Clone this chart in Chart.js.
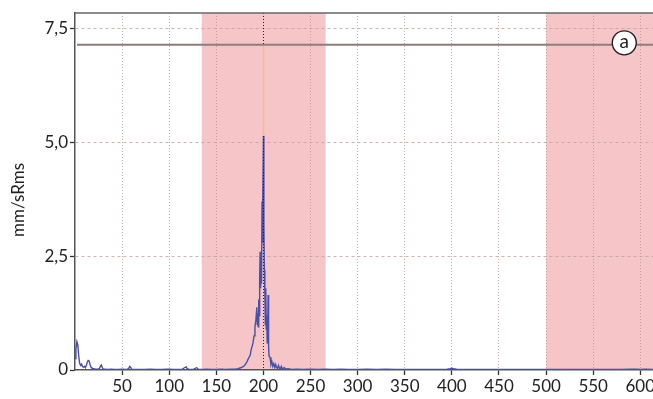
<!DOCTYPE html>
<html>
<head>
<meta charset="utf-8">
<script src="https://cdn.jsdelivr.net/npm/chart.js@4/dist/chart.umd.min.js"></script>
<style>
  html, body { margin: 0; padding: 0; background: #fff; }
  canvas { display: block; }
</style>
</head>
<body>
<canvas id="spectrum" width="653" height="399"></canvas>
<script>
// spectrum points: frequency (Hz) and velocity (mm/s RMS)
const freq = [0, 1, 2, 3, 4, 5, 6, 7, 8, 9, 10, 11, 12, 13, 14, 15, 16, 17, 18, 19, 20, 22, 24, 26, 27, 28, 29, 30, 32, 35, 38, 42, 46, 50, 54, 57, 58, 59, 60, 63, 68, 74, 80, 86, 92, 98, 101, 104, 110, 114, 117, 118, 119, 122, 126, 129, 130, 131, 135, 140, 145, 150, 155, 160, 165, 170, 173, 176, 178, 180, 182, 184, 186, 187, 188, 189, 190, 191, 192, 193, 193.5, 194, 194.5, 195, 195.5, 196, 196.5, 197, 197.5, 198, 198.5, 199, 199.5, 200, 200.5, 201, 201.5, 202, 202.5, 203, 203.5, 204, 204.5, 205, 205.5, 206, 207, 208, 209, 210, 211, 212, 213, 214, 215, 216, 217, 218, 219, 220, 222, 224, 226, 230, 236, 242, 250, 258, 266, 274, 282, 290, 300, 310, 320, 330, 340, 350, 360, 370, 380, 390, 395, 398, 400, 402, 405, 410, 420, 440, 460, 480, 500, 520, 540, 560, 580, 590, 595, 600, 605, 613];
const amp = [0.25, 0.45, 0.62, 0.55, 0.3, 0.14, 0.1, 0.13, 0.07, 0.06, 0.08, 0.05, 0.1, 0.17, 0.21, 0.2, 0.12, 0.06, 0.04, 0.03, 0.03, 0.02, 0.02, 0.03, 0.09, 0.11, 0.05, 0.02, 0.02, 0.01, 0.02, 0.01, 0.01, 0.02, 0.01, 0.03, 0.08, 0.06, 0.02, 0.01, 0.01, 0.01, 0.02, 0.01, 0.01, 0.02, 0.02, 0.01, 0.01, 0.02, 0.06, 0.07, 0.03, 0.01, 0.02, 0.05, 0.04, 0.01, 0.01, 0.02, 0.01, 0.01, 0.02, 0.01, 0.02, 0.02, 0.03, 0.05, 0.07, 0.1, 0.16, 0.25, 0.33, 0.45, 0.52, 0.6, 0.75, 0.95, 1.1, 1.38, 1.0, 1.25, 0.95, 1.55, 1.2, 2.0, 2.6, 1.8, 2.3, 1.9, 3.7, 2.8, 3.7, 5.15, 3.2, 2.2, 1.7, 1.0, 1.8, 0.9, 1.2, 0.6, 0.9, 1.65, 0.5, 0.3, 0.28, 0.12, 0.18, 0.08, 0.14, 0.06, 0.12, 0.05, 0.04, 0.1, 0.04, 0.03, 0.08, 0.02, 0.05, 0.02, 0.03, 0.01, 0.02, 0.01, 0.02, 0.01, 0.02, 0.01, 0.02, 0.01, 0.01, 0.02, 0.01, 0.02, 0.01, 0.01, 0.01, 0.01, 0.01, 0.01, 0.02, 0.03, 0.04, 0.03, 0.02, 0.01, 0.01, 0.01, 0.01, 0.01, 0.01, 0.01, 0.01, 0.01, 0.01, 0.02, 0.02, 0.01, 0.02, 0.01];

const xTicks = [50, 100, 150, 200, 250, 300, 350, 400, 450, 500, 550, 600];
const yTicks = [0, 2.5, 5, 7.5];
const yTitle = 'mm/sRms';

// shaded frequency bands
const bands = [[134.5, 266], [500, 700]];

// alarm level and its marker
const alarmLevel = 7.15;
const alarmMarkerFreq = 583;
const alarmLabel = 'a';

// cursor on the main peak
const cursorFreq = 200;
const cursorValue = 5.15;

const FONT = 'Lato, "Open Sans", sans-serif';

const points = freq.map((f, i) => ({ x: f, y: amp[i] }));

const overlay = {
  id: 'overlay',
  beforeDraw(chart) {
    const { ctx, chartArea: a, scales: { x } } = chart;
    ctx.save();
    ctx.fillStyle = '#f6c5c7';
    bands.forEach(b => {
      const x1 = Math.max(x.getPixelForValue(b[0]), a.left);
      const x2 = Math.min(x.getPixelForValue(b[1]), a.right);
      ctx.fillRect(x1, a.top, x2 - x1, a.bottom - a.top);
    });
    // axis title, a little below the middle of the axis
    ctx.translate(19, 200);
    ctx.rotate(-Math.PI / 2);
    ctx.fillStyle = '#222';
    ctx.font = '17px ' + FONT;
    ctx.textAlign = 'center';
    ctx.textBaseline = 'middle';
    ctx.fillText(yTitle, 0, 0);
    ctx.restore();
  },
  afterDatasetsDraw(chart) {
    const { ctx, chartArea: a, scales: { x, y } } = chart;
    const cx = Math.round(x.getPixelForValue(cursorFreq)) + 0.5;
    const ay = y.getPixelForValue(alarmLevel);
    const py = y.getPixelForValue(cursorValue);
    ctx.save();
    // cursor
    ctx.strokeStyle = '#222';
    ctx.lineWidth = 1;
    ctx.setLineDash([1, 2]);
    ctx.beginPath();
    ctx.moveTo(cx, a.top);
    ctx.lineTo(cx, a.bottom);
    ctx.stroke();
    ctx.setLineDash([]);
    ctx.strokeStyle = '#f2c27a';
    ctx.lineWidth = 1.5;
    ctx.beginPath();
    ctx.moveTo(cx, ay);
    ctx.lineTo(cx, py);
    ctx.stroke();
    // alarm line
    ctx.strokeStyle = '#8f7b7b';
    ctx.lineWidth = 2;
    ctx.beginPath();
    ctx.moveTo(a.left + 2, ay);
    ctx.lineTo(a.right, ay);
    ctx.stroke();
    // top frame
    ctx.strokeStyle = '#666';
    ctx.lineWidth = 1.5;
    ctx.beginPath();
    ctx.moveTo(a.left, a.top);
    ctx.lineTo(a.right, a.top);
    ctx.stroke();
    // marker
    const mx = x.getPixelForValue(alarmMarkerFreq);
    const my = ay - 2;
    ctx.fillStyle = '#fff';
    ctx.strokeStyle = '#222';
    ctx.lineWidth = 1.4;
    ctx.beginPath();
    ctx.arc(mx, my, 12, 0, Math.PI * 2);
    ctx.fill();
    ctx.stroke();
    ctx.fillStyle = '#222';
    ctx.font = '19px ' + FONT;
    ctx.textAlign = 'center';
    ctx.textBaseline = 'middle';
    ctx.fillText(alarmLabel, mx, my - 1);
    ctx.restore();
  }
};

new Chart(document.getElementById('spectrum'), {
  type: 'line',
  data: {
    datasets: [{
      data: points,
      borderColor: '#4a4fa6',
      borderWidth: 1.4,
      pointRadius: 0,
      tension: 0,
      fill: false
    }]
  },
  options: {
    responsive: false,
    animation: false,
    devicePixelRatio: 1,
    layout: { padding: { top: 13, right: 0, left: 0, bottom: 0 } },
    plugins: { legend: { display: false }, tooltip: { enabled: false } },
    scales: {
      x: {
        type: 'linear',
        min: 0,
        max: 613.5,
        afterBuildTicks: s => { s.ticks = xTicks.map(v => ({ value: v })); },
        afterFit: s => { s.height = 29; s.paddingLeft = 0; s.paddingRight = 0; },
        ticks: {
          color: '#222',
          font: { family: FONT, size: 17 },
          maxRotation: 0,
          autoSkip: false,
          padding: 1,
          callback: v => String(v)
        },
        grid: {
          color: 'rgba(175,145,145,0.75)',
          lineWidth: 1,
          tickLength: 5,
          tickColor: '#333',
          tickWidth: 1.3
        },
        border: { color: '#555', width: 1.5, dash: [1, 2] }
      },
      y: {
        min: 0,
        max: 7.85,
        afterBuildTicks: s => { s.ticks = yTicks.map(v => ({ value: v })); },
        afterFit: s => { s.width = 75; },
        ticks: {
          color: '#222',
          font: { family: FONT, size: 17 },
          padding: 2,
          callback: v => v === 0 ? '0' : v.toFixed(1).replace('.', ',')
        },
        grid: {
          color: c => c.tick && c.tick.value === 0 ? 'rgba(0,0,0,0)' : 'rgba(195,160,160,0.8)',
          lineWidth: 1,
          tickLength: 5,
          tickColor: '#333',
          tickWidth: 1.3
        },
        border: { color: '#555', width: 1.5, dash: [3, 3] }
      }
    }
  },
  plugins: [overlay]
});
</script>
</body>
</html>
